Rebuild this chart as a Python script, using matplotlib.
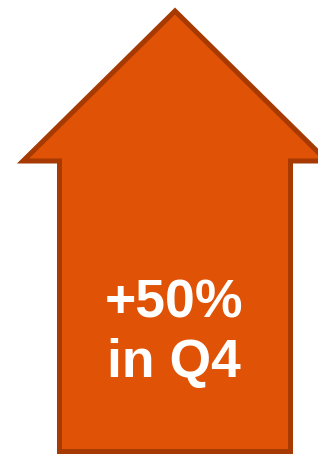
import matplotlib.pyplot as plt
from matplotlib.patches import Polygon

# arrow outline (pixel coords, y down)
arrow_x = [175, 327, 290.5, 290.5, 59.5, 59.5, 23]
arrow_y = [11, 161, 161, 451.5, 451.5, 161, 161]
label_lines = ['+50%', 'in Q4']
label_y = [317, 377]  # baselines

fig = plt.figure(figsize=(3.18, 4.55), dpi=100)
ax = fig.add_axes([0, 0, 1, 1])
ax.set_xlim(0, 318)
ax.set_ylim(455, 0)
ax.axis('off')

poly = Polygon(list(zip(arrow_x, arrow_y)), closed=True,
               facecolor='#E05206', edgecolor='#A63A02', linewidth=3.6,
               joinstyle='miter')
ax.add_patch(poly)

for txt, y in zip(label_lines, label_y):
    ax.text(174, y, txt, ha='center', va='baseline', color='white',
            fontsize=38.5, fontweight='bold', family='Liberation Sans')

fig.savefig('out.png', dpi=100)
